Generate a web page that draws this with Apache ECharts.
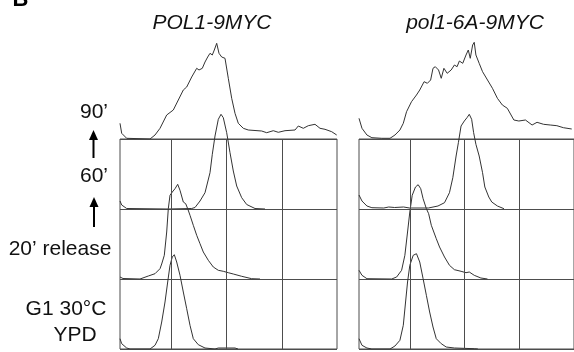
<!DOCTYPE html>
<html>
<head>
<meta charset="utf-8">
<script src="https://cdn.jsdelivr.net/npm/echarts@6/dist/echarts.min.js"></script>
<style>
html, body { margin: 0; padding: 0; background: #fff; }
#main { width: 574px; height: 352px; }
</style>
</head>
<body>
<div id="main"></div>
<script>
// FACS profiles, DNA content channel vs cell count (peak normalised ~95)
const strains = ['POL1-9MYC', 'pol1-6A-9MYC'];
const timeLabels = ['G1 30°C', 'YPD', '20’ release', '60’', '90’'];
const gateChannels = [51.7, 106, 161.8];

const wt_G1 = [[0,10.3],[1.7,5.3],[6.7,1],[10,0],[30,0],[35,3.7],[38.3,10.3],[41.7,27],[45,47],[47.7,67],[50,83.7],[52.3,92],[54.3,94.3],[56.7,87],[60,73.7],[63.3,57],[66.7,40.3],[70,23.7],[73.3,10.3],[78.3,4.3],[85,1],[95,0],[98.3,1],[115,1],[118,0]];
const wt_20 = [[0,2],[3,0.5],[20,0],[28.3,3],[35,5.3],[40,10.3],[41.7,15],[44.3,23.7],[46.7,47],[48.3,70.3],[50,83.7],[52.3,87],[55,90.3],[57.7,94.7],[60,88.7],[63.3,77],[65.7,75.3],[67.7,70.3],[70,63.7],[73.3,53.7],[76.7,43.7],[80,35.3],[83.3,27],[88.3,18.7],[93.3,12],[98.3,8.7],[103.3,7.7],[108.3,6.3],[113.3,5],[121.7,2.7],[131.7,0.3],[140,0]];
const wt_60 = [[0,8],[1.7,4],[6.7,0.5],[48,0],[71.7,0.5],[75,1.5],[80,8],[85,16.3],[90,36.3],[92.3,54.7],[95,73],[98.3,89.7],[101,94.7],[103.3,91.3],[106.7,76.3],[110,56.3],[113.3,38],[116.7,23],[121.7,11.3],[126.7,4.5],[135,0.5],[145,0]];
const wt_90 = [[0,15.7],[1.7,5.7],[6.7,0.7],[30,0],[35,4],[40,10.7],[46.7,24],[53.3,29],[58.3,39],[63.3,49],[66.7,52],[71.7,62],[76.7,70.7],[79,69],[82.3,70.7],[85,77],[87.7,82],[90,85.7],[92.3,84],[94.3,89],[96.7,95.7],[99,85.7],[101.7,82],[105,80.7],[108.3,60.7],[111.7,40.7],[115,25.7],[118.3,15.7],[123.3,10.7],[128.3,9],[141.7,8],[146.7,6.3],[153.3,8.3],[158.3,6.7],[165,8.3],[175,9],[178.3,13],[183.3,10.7],[188.3,13.3],[195,14.7],[200,10.7],[205,9.7],[211.7,7.3],[216.7,4]];

const mut_G1 = [[0,10.3],[3,3.7],[8,1],[13,0],[31.3,0],[36.3,3],[41.3,8.7],[44.7,23.7],[47,47],[49,67],[51.3,83.7],[54.7,93.7],[58,95.3],[61.3,87],[64.7,70.3],[68,53.7],[71.3,37],[74.7,22],[78,10.3],[83,5.3],[88,2],[96.3,1],[116.3,0.3],[120,0]];
const mut_20 = [[0,8.7],[3,3.7],[8,0.3],[33,0],[38,2],[43,8.7],[46.3,23.7],[49,47],[51.3,67],[53.7,83.7],[57,92],[59.7,94.3],[62.3,90.3],[64.7,80.3],[68,70.3],[70.3,65.3],[73,53.7],[78,40.3],[81.3,32],[86.3,22],[91.3,13.7],[96.3,9.3],[103,7.7],[108,6.3],[111.3,7],[116.3,3.7],[123,1],[129.7,0]];
const mut_60 = [[0,14],[3,8],[8,3],[13,1.3],[25,1],[30,2],[36,1.5],[45,2],[51,1],[70,1],[79.7,3],[86.3,6.3],[91.3,16.3],[94.7,31.3],[98,53],[100.3,66.3],[103,83],[106.3,88],[109,91.3],[111.3,94.7],[113.7,89.7],[115.7,76.3],[118,64.7],[119.7,66.3],[121.3,53],[124.7,36.3],[127,22],[131,12],[134,7],[139.7,3],[146.3,0.3]];
const mut_90 = [[0,20.7],[3,10.7],[8,4],[13,1.3],[23,0.7],[31.3,0.7],[36.3,4],[41.3,9],[44.7,15.7],[48,27.3],[53,37.3],[58,44],[61.3,49],[65.7,57.3],[69,55.7],[72.3,59],[74.7,70.7],[77,72.3],[80.3,69],[83,60.7],[85.7,70.7],[89,65.7],[93,69],[96.3,74],[99,72.3],[101.3,78],[104.7,75.7],[108,84],[110.3,89],[112.3,80.7],[114.7,94],[116.3,96.7],[118,84],[121.3,75.7],[124.7,67.3],[129.7,59],[134.7,50.7],[139.7,40.7],[144.7,34],[149.7,30.7],[156.3,19],[161.3,18],[168,19],[174.7,14],[179.7,16.7],[186.3,14.7],[193,14],[199.7,13.3],[206.3,11.3],[214.7,10]];

const curves = [[wt_G1, wt_20, wt_60, wt_90], [mut_G1, mut_20, mut_60, mut_90]];

var panelLeft = [120, 359];
var rowBase = [349, 279, 209, 139];
var lineCol = '#4d4d4d';
var font = '"Liberation Sans", Arial, sans-serif';

var myChart = echarts.init(document.getElementById('main'));
var option = { animation: false, grid: [], xAxis: [], yAxis: [], series: [], graphic: [] };

function addGrid(g, xa, ya) {
  var i = option.grid.length;
  option.grid.push(g);
  xa.gridIndex = i; ya.gridIndex = i;
  option.xAxis.push(xa);
  option.yAxis.push(ya);
  return i;
}

strains.forEach(function (name, p) {
  // boxes below the 90' profile
  var b = addGrid(
    { left: panelLeft[p], top: 139, width: 217, height: 210, show: true, borderColor: lineCol, borderWidth: 1 },
    { type: 'value', min: 0, max: 217, show: false },
    { type: 'value', min: 0, max: 3, interval: 1, axisLine: { show: false }, axisTick: { show: false },
      axisLabel: { show: false }, splitLine: { show: true, lineStyle: { color: lineCol, width: 1 } } }
  );
  option.series.push({
    type: 'line', xAxisIndex: b, yAxisIndex: b, data: [],
    markLine: {
      silent: true, symbol: ['none', 'none'], label: { show: false },
      lineStyle: { color: lineCol, width: 1, type: 'solid' },
      data: gateChannels.map(function (v) { return { xAxis: v }; })
    }
  });

  curves[p].forEach(function (d, r) {
    var k = addGrid(
      { left: panelLeft[p], top: rowBase[r] - 100, width: 217, height: 100 },
      { type: 'value', min: 0, max: 217, show: false },
      { type: 'value', min: 0, max: 100, show: false }
    );
    option.series.push({
      type: 'line', xAxisIndex: k, yAxisIndex: k, data: d, z: 3,
      symbol: 'none', showSymbol: false,
      lineStyle: { color: '#333', width: 1 }
    });
  });

  option.graphic.push({
    type: 'text', x: panelLeft[p] + (p ? 116 : 92), y: 23,
    style: { text: name, font: 'italic 21px ' + font, fill: '#111', textAlign: 'center', textVerticalAlign: 'middle' }
  });
});

// row labels and arrows
var labelPos = [[66, 309], [75, 335], [60, 249], [94, 176], [94, 112]];
timeLabels.forEach(function (t, i) {
  option.graphic.push({
    type: 'text', x: labelPos[i][0], y: labelPos[i][1],
    style: { text: t, font: '21px ' + font, fill: '#111', textAlign: 'center', textVerticalAlign: 'middle' }
  });
});
[[93.5, 130, 158], [94, 197, 227]].forEach(function (a) {
  option.graphic.push({ type: 'line', shape: { x1: a[0], y1: a[1] + 8, x2: a[0], y2: a[2] }, style: { stroke: '#000', lineWidth: 2 } });
  option.graphic.push({ type: 'polygon', shape: { points: [[a[0], a[1]], [a[0] - 4.5, a[1] + 10], [a[0] + 4.5, a[1] + 10]] }, style: { fill: '#000' } });
});
option.graphic.push({
  type: 'text', x: 20.5, y: 0,
  style: { text: 'B', font: 'bold 22px ' + font, fill: '#000', textAlign: 'center', textVerticalAlign: 'middle' }
});

myChart.setOption(option);
</script>
</body>
</html>
